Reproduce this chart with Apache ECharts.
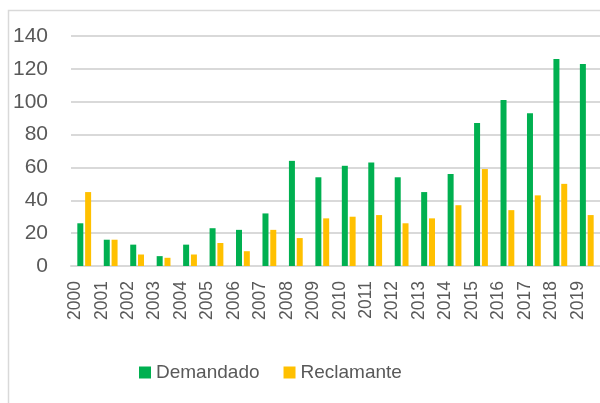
<!DOCTYPE html>
<html>
<head>
<meta charset="utf-8">
<script src="https://cdn.jsdelivr.net/npm/echarts@6/dist/echarts.min.js"></script>
<style>
  html, body { margin: 0; padding: 0; background: #fff; }
  #main { width: 600px; height: 403px; }
</style>
</head>
<body>
<div id="main"></div>
<script>
const years = ['2000', '2001', '2002', '2003', '2004', '2005', '2006', '2007', '2008', '2009',
  '2010', '2011', '2012', '2013', '2014', '2015', '2016', '2017', '2018', '2019'];
const demandado = [26, 16, 13, 6, 13, 23, 22, 32, 64, 54, 61, 63, 54, 45, 56, 87, 101, 93, 126, 123];
const reclamante = [45, 16, 7, 5, 7, 14, 9, 22, 17, 29, 30, 31, 26, 29, 37, 59, 34, 43, 50, 31];

const font = 'Liberation Sans';
const textColor = '#595959';
const gridColor = '#d9d9d9';

const chartDom = document.getElementById('main');
const myChart = echarts.init(chartDom);

const option = {
  animation: false,
  graphic: [
    {
      type: 'rect',
      shape: { x: 8.5, y: 10.5, width: 700, height: 500 },
      style: { fill: 'none', stroke: gridColor, lineWidth: 1.5 }
    }
  ],
  grid: { left: 71, top: 36, width: 532, height: 230, containLabel: false },
  legend: {
    left: 134,
    top: 358,
    itemWidth: 12,
    itemHeight: 12,
    itemGap: 24,
    icon: 'rect',
    textStyle: { fontFamily: font, fontSize: 19, color: textColor },
    data: ['Demandado', 'Reclamante']
  },
  xAxis: {
    type: 'category',
    data: years,
    axisLine: { lineStyle: { color: gridColor, width: 2 } },
    axisTick: { show: false },
    axisLabel: {
      rotate: 90,
      margin: 15,
      verticalAlign: 'bottom',
      fontFamily: font,
      fontSize: 17.5,
      color: textColor
    }
  },
  yAxis: {
    type: 'value',
    min: 0,
    max: 140,
    interval: 20,
    axisLine: { show: false },
    axisTick: { show: false },
    splitLine: { lineStyle: { color: gridColor, width: 2 } },
    axisLabel: { margin: 23, fontFamily: font, fontSize: 21, color: textColor }
  },
  series: [
    {
      name: 'Demandado',
      type: 'bar',
      data: demandado,
      barWidth: 6,
      barGap: '30%',
      itemStyle: { color: '#00b050' }
    },
    {
      name: 'Reclamante',
      type: 'bar',
      data: reclamante,
      barWidth: 6,
      itemStyle: { color: '#ffc000' }
    }
  ]
};

myChart.setOption(option);
</script>
</body>
</html>
